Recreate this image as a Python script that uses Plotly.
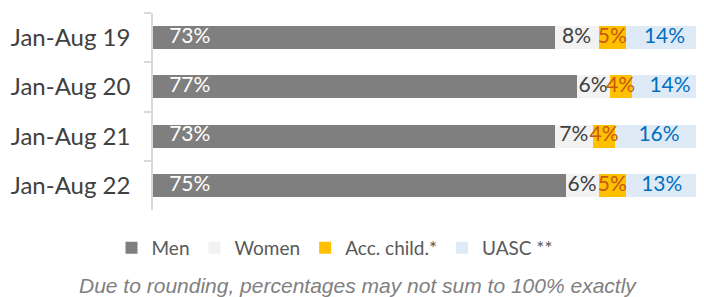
import plotly.graph_objects as go

categories = ["Jan-Aug 19", "Jan-Aug 20", "Jan-Aug 21", "Jan-Aug 22"]
men = [73, 77, 73, 75]
women = [8, 6, 7, 6]
acc_child = [5, 4, 4, 5]
uasc = [14, 14, 16, 13]

series = [
    ("Men", men, "#7f7f7f", "#ffffff"),
    ("Women", women, "#f2f2f2", "#404040"),
    ("Acc. child.*", acc_child, "#ffc000", "#c55a11"),
    ("UASC **", uasc, "#deebf7", "#0070c0"),
]

# page body has an 8px margin; figure coordinates = reference pixels - 8
OFF = 8
W, H = 704 - OFF, 297 - OFF
PL, PR, PT, PB = 153 - OFF, 703 - OFF, 13 - OFF, 210 - OFF
PW, PH = PR - PL, PB - PT

fig = go.Figure()
base = [0] * len(categories)
for i, (name, vals, col, tcol) in enumerate(series):
    fig.add_trace(go.Bar(
        y=categories, x=vals, name=name, orientation="h",
        marker=dict(color=col, line=dict(width=0)),
        hoverinfo="skip",
    ))
    if i == 0:
        xs = [b for b in base]
        pos = "middle right"
        txt = [f"   {v}%" for v in vals]
    else:
        xs = [b + v / 2 for b, v in zip(base, vals)]
        pos = "middle center"
        txt = [f"{v}%" for v in vals]
    fig.add_trace(go.Scatter(
        y=categories, x=xs, mode="text", text=txt, textposition=pos,
        textfont=dict(family="Lato", size=21, color=tcol),
        showlegend=False, hoverinfo="skip", cliponaxis=False,
    ))
    base = [b + v for b, v in zip(base, vals)]

fig.update_layout(
    barmode="stack", bargap=0.53,
    width=W, height=H,
    margin=dict(l=PL, r=W - PR, t=PT, b=H - PB, autoexpand=False),
    paper_bgcolor="white", plot_bgcolor="white",
    font=dict(family="Lato", color="#404040"),
    xaxis=dict(range=[0, 100], visible=False, fixedrange=True),
    yaxis=dict(autorange="reversed", showline=True, linecolor="#d9d9d9", linewidth=1.5,
               ticks="outside", tickson="boundaries", ticklen=7, tickcolor="#d9d9d9",
               tickwidth=1.5, automargin=False, ticklabelstandoff=16,
               tickfont=dict(family="Lato", size=24, color="#404040"),
               showgrid=False),
    legend=dict(orientation="h", x=(335 - 153) / PW, xanchor="center",
                y=-(248 - 210) / PH, yanchor="middle",
                font=dict(family="Lato", size=19, color="#595959"),
                itemwidth=30, traceorder="normal"),
    showlegend=True,
)
fig.add_annotation(text="<i>Due to rounding, percentages may not sum to 100% exactly</i>",
                   xref="paper", yref="paper", x=(358 - 153) / PW, y=-(285 - 210) / PH,
                   xanchor="center", yanchor="middle", showarrow=False,
                   font=dict(family="Liberation Sans", size=21, color="#808080"))
fig.write_html("out.html")
